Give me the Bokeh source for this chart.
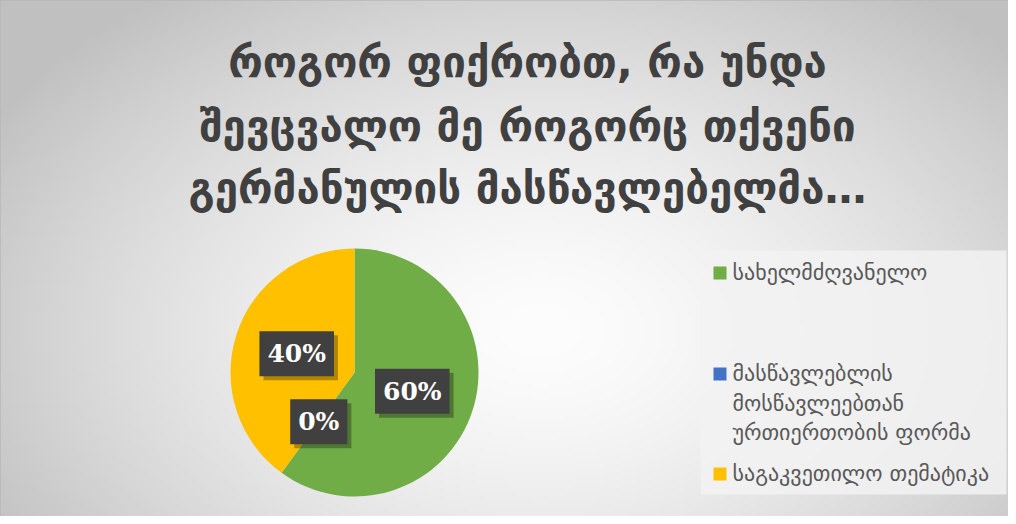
import numpy as np
from bokeh.plotting import figure
from bokeh.models import Range1d, ColumnDataSource
from bokeh.embed import file_html
from bokeh.resources import INLINE
from bokeh.core.properties import value

# ---------------- data ----------------
title_lines = ["როგორ ფიქრობთ, რა უნდა",
               "შევცვალო მე როგორც თქვენი",
               "გერმანულის მასწავლებელმა…"]
categories = ["სახელმძღვანელო",
              "მასწავლებლის მოსწავლეებთან ურთიერთობის ფორმა",
              "საგაკვეთილო თემატიკა"]
legend_text = ["სახელმძღვანელო",
               "მასწავლებლის\nმოსწავლეებთან\nურთიერთობის ფორმა",
               "საგაკვეთილო თემატიკა"]
shares = [60, 0, 40]
colors = ["#70AD47", "#4472C4", "#FFC000"]

# ---------------- layout ----------------
W, H = 1008, 516
def py(page_y):  # screenshot y -> data y
    return H - page_y
def px(page_x):
    return page_x

cx, cy, R = px(354), py(372), 124
label_frac = 0.49
title_x = px(527)
title_rows = [py(62), py(126), py(188)]
legend_rows = [py(272.5), py(373.5), py(473.5)]

p = figure(width=W, height=H, x_range=Range1d(0, W), y_range=Range1d(0, H),
           output_backend="svg", toolbar_location=None, min_border=0,
           background_fill_color="#e6e6e6", border_fill_color="#e6e6e6")
p.axis.visible = False
p.grid.visible = False
p.outline_line_color = "#b8b8b8"
p.outline_line_width = 2

# background radial gradient
gh, gw = 129, 252
yy, xx = np.mgrid[0:gh, 0:gw]
xs = (xx + 0.5) * W / gw
ys = (yy + 0.5) * H / gh
gx, gy = px(540), py(330)
t = np.sqrt(((xs - gx) / 640.0) ** 2 + ((ys - gy) / 420.0) ** 2)
t = np.clip(t, 0, 1)
lev = (253 - 61 * t ** 1.5).astype(np.uint32)
img = np.empty((gh, gw), dtype=np.uint32)
view = img.view(dtype=np.uint8).reshape((gh, gw, 4))
view[:, :, 0] = lev
view[:, :, 1] = lev
view[:, :, 2] = lev
view[:, :, 3] = 255
p.image_rgba(image=[img], x=0, y=0, dw=W, dh=H)

# title
p.text(x=[title_x] * len(title_lines), y=title_rows, text=title_lines,
       text_font=value("DejaVu Sans"), text_font_size="42px", text_font_style="bold",
       text_color="#404040", text_align="center", text_baseline="middle")

# pie
frac = np.array(shares, dtype=float) / sum(shares)
c1 = np.cumsum(frac)
c0 = c1 - frac
start = np.pi / 2 - 2 * np.pi * c0
end = np.pi / 2 - 2 * np.pi * c1
mid = (start + end) / 2
nz = [i for i, s in enumerate(shares) if s > 0]
wsrc = ColumnDataSource(dict(start=start[nz], end=end[nz],
                             color=[colors[i] for i in nz]))
p.wedge(x=cx, y=cy, radius=R, start_angle="start", end_angle="end",
        direction="clock", fill_color="color", line_color=None, source=wsrc)

# data labels
lx = cx + label_frac * R * np.cos(mid)
ly = cy + label_frac * R * np.sin(mid)
labels = [f"{s}%" for s in shares]
lsrc = ColumnDataSource(dict(x=lx, y=ly, text=labels))
p.text(x="x", y="y", text="text", source=lsrc, x_offset=4, y_offset=4,
       text_font=value("DejaVu Serif"), text_font_size="25px", text_font_style="bold",
       text_alpha=0, text_align="center", text_baseline="middle",
       background_fill_color="black", background_fill_alpha=0.3, padding=8)
p.text(x="x", y="y", text="text", source=lsrc,
       text_font=value("DejaVu Serif"), text_font_size="25px", text_font_style="bold",
       text_color="white", text_align="center", text_baseline="middle",
       background_fill_color="#404040", padding=8)

# legend box
p.rect(x=(px(700) + px(1006)) / 2, y=(py(250) + py(494)) / 2,
       width=306, height=244, fill_color="#f2f2f2", fill_alpha=0.85, line_color=None)
p.rect(x=[px(719.5)] * 3, y=legend_rows, width=13, height=13,
       fill_color=colors, line_color=None)
p.text(x=[px(732)] * 3, y=[v + 13 for v in legend_rows], text=legend_text,
       text_font=value("DejaVu Sans"), text_font_size="22px", text_line_height=1.18,
       text_color="#595959", text_align="left", text_baseline="top")

open("out.html", "w").write(file_html(p, INLINE))
